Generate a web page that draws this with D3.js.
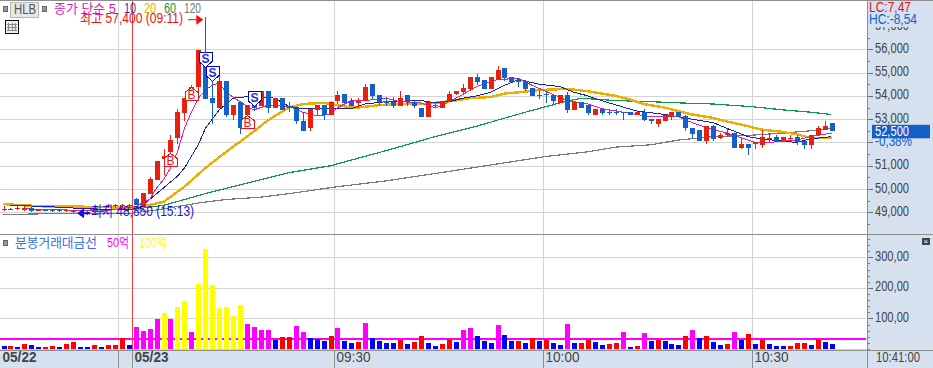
<!DOCTYPE html>
<html>
<head>
<meta charset="utf-8">
<script src="https://cdn.jsdelivr.net/npm/d3@7"></script>
<style>
  html, body { margin: 0; padding: 0; background: #fff; }
  svg { display: block; }
  text { font-family: "Liberation Sans", "Noto Sans CJK KR", sans-serif; }
</style>
</head>
<body>
<svg id="drawing_region"></svg>
<script>
// candles, one per minute, k = 0..119
const open = [49100,49150,49150,49100,49200,49050,49100,49100,49100,49050,49050,49000,49000,49000,49050,49250,49250,49250,49250,49550,
  49250,49800,50400,51300,51600,52200,53250,54150,54400,55750,53900,53500,54650,53200,53750,53200,53750,53550,54200,53500,
  53900,53550,53500,52900,52600,53400,53600,53200,53800,54100,53800,53700,53800,54500,54050,53800,53750,53550,54050,53750,
  53500,53100,53600,53500,53800,54100,54150,54300,54800,54700,54300,54700,55200,54800,54700,54650,54350,54050,54100,54050,
  53700,54050,53400,53750,53600,53200,53450,53300,53300,53300,53300,53200,53300,53000,52800,52900,53100,53300,53150,52600,
  52550,52050,52700,52200,52300,52400,51750,51950,51950,51900,52150,52250,52050,52150,52250,52050,51900,52300,52550,52850];
const high = [49250,49200,49250,49250,49250,49150,49150,49150,49150,49150,49100,49050,49050,49100,49100,49350,49350,49350,49350,49600,
  49850,50500,51200,51700,52300,53450,53900,54450,55950,57400,55000,54950,54650,53600,53750,53600,53800,54200,54200,53900,
  53900,53750,53500,53300,53450,53600,53600,53800,54200,54100,53900,53900,54500,54500,54050,53950,53950,54200,54050,53800,
  53500,53750,53750,53800,54200,54200,54500,54800,54950,54700,54800,55300,55200,54800,54750,54700,54350,54250,54150,54100,
  54050,54150,53750,53750,53600,53450,53450,53450,53450,53300,53300,53300,53450,53000,53000,53200,53300,53300,53200,52600,
  52550,52700,52750,52400,52600,52400,52250,51950,52000,52550,52400,52300,52250,52300,52300,52050,52300,52700,52900,52850];
const low = [49050,49100,49100,49050,49000,49050,49050,49000,49000,49000,48950,48850,48900,48950,49000,49200,49200,49200,49200,49300,
  49250,49800,50400,50600,51400,51950,52900,54100,54150,53850,52800,53500,53100,52950,52350,53100,53350,53550,53250,53500,
  53400,53300,52800,52500,52500,53200,52950,53200,53650,53700,53550,53500,53800,53850,53550,53550,53500,53550,53550,53500,
  53100,53100,53500,53500,53800,54050,54100,54200,54450,54300,54300,54700,54650,54600,54400,54200,54000,53850,53700,53650,
  53700,53250,53400,53500,53200,53200,53200,53200,53200,52950,53200,53200,52900,52800,52650,52900,52950,53100,52500,52200,
  52050,51950,52050,52150,52250,51750,51700,51450,51700,51750,52000,52000,52000,52000,51900,51700,51700,52300,52550,52500];
const close = [49150,49150,49200,49200,49050,49150,49100,49050,49050,49100,49000,48950,48950,49050,49000,49300,49300,49300,49300,49300,
  49850,50450,51200,51400,52100,53300,53900,54400,55950,53850,53700,54650,53200,53600,52600,53600,53500,54200,53500,53900,
  53400,53500,52900,52500,53450,53600,53200,53750,54050,53700,53550,53800,54400,54000,53750,53700,53550,53900,53750,53550,
  53100,53750,53600,53800,54100,54200,54350,54800,54600,54300,54800,55100,54750,54600,54600,54300,54000,54050,54050,53800,
  54050,53400,53750,53500,53250,53450,53250,53300,53300,53300,53200,53300,52950,52900,53000,53200,53300,53100,52600,52350,
  52050,52700,52150,52300,52400,51750,51950,51750,52000,52250,52200,52000,52250,52200,52000,51900,52300,52600,52700,52500];

// moving averages as [k, price]
const ma5 = [[3,49150],[9,49100],[14,49050],[18,49200],[19,49250],[21,49550],[22,50050],[23,50400],[24,50900],[25,51600],[26,52600],[27,53300],
  [28,53900],[29,54250],[30,54450],[31,54550],[32,54150],[33,53950],[35,53550],[36,53400],[38,53600],[41,53550],[43,53300],[45,53150],[47,53200],
  [48,53500],[50,53800],[52,53800],[55,53900],[57,53750],[60,53700],[62,53500],[63,53550],[64,53750],[66,54050],[68,54400],[71,54700],[74,54750],
  [76,54450],[81,53800],[84,53650],[86,53450],[89,53300],[93,53100],[97,53100],[99,52850],[102,52550],[104,52400],[106,52200],[108,52000],[110,52000],
  [114,52100],[116,52250],[119,52400]];
const ma10 = [[1,49300],[6,49250],[12,49150],[18,49100],[20,49250],[21,49550],[22,49800],[23,50050],[25,50550],[26,50900],[28,51900],[29,52600],
  [31,53400],[33,53900],[36,54000],[39,53900],[41,53550],[43,53450],[46,53450],[50,53450],[52,53650],[55,53750],[60,53800],[62,53700],[64,53750],
  [66,53900],[68,54000],[70,54150],[72,54450],[74,54700],[77,54500],[80,54400],[82,54150],[84,54000],[87,53700],[91,53350],[95,53200],[97,53100],
  [102,52850],[104,52600],[107,52250],[109,52150],[114,52000],[116,52150],[119,52250]];
const ma20 = [[0,49350],[6,49250],[10,49250],[18,49200],[20,49250],[23,49450],[26,50100],[29,50900],[32,51600],[35,52250],[38,52950],[41,53500],
  [43,53650],[46,53700],[48,53600],[50,53500],[51,53500],[54,53600],[56,53650],[60,53650],[62,53700],[65,53800],[67,53900],[70,53950],[72,54100],
  [74,54150],[77,54250],[81,54300],[84,54200],[86,54100],[88,54000],[90,53850],[92,53650],[95,53500],[97,53350],[99,53200],[102,53050],[104,52900],
  [107,52700],[109,52550],[112,52450],[114,52350],[116,52200],[119,52200]];
const ma60 = [[12,49150],[18,49100],[23,49300],[29,49800],[35,50250],[41,50700],[47,51000],[55,51650],[62,52250],[68,52700],[75,53300],[80,53700],
  [83,53900],[88,53800],[93,53750],[97,53700],[102,53650],[107,53550],[112,53400],[116,53300],[119,53200]];
const ma120 = [[0,48900],[8,48950],[18,48950],[22,49100],[28,49400],[32,49550],[37,49650],[41,49800],[48,50100],[55,50350],[65,50800],[78,51400],
  [84,51600],[88,51800],[93,51900],[97,52100],[102,52250],[107,52300],[112,52400],[116,52500],[119,52600]];

// volume, in 억
const vol = [10,10,7,16,13,7,7,10,7,16,23,7,7,13,7,13,13,36,13,72,59,65,98,118,98,137,157,56,213,327,209,134,137,108,144,82,72,62,62,29,
  39,39,75,56,36,33,26,43,69,26,20,23,85,36,26,20,20,29,16,23,43,20,10,16,33,23,62,69,43,26,20,78,46,26,26,20,36,26,33,20,
  13,82,20,20,33,23,13,16,20,56,7,10,52,26,29,26,16,13,43,62,36,43,23,13,16,56,29,49,16,33,16,10,10,10,20,20,13,33,23,16];
const volUp = [0,1,0,1,0,0,1,1,0,1,1,0,0,1,0,1,1,1,0,1,1,1,1,1,1,1,1,1,1,1,1,1,1,1,1,1,1,1,1,0,
  1,1,1,1,0,0,0,1,1,0,0,1,1,0,0,0,0,1,0,1,1,0,0,1,1,0,1,1,0,0,0,1,0,0,1,0,1,0,1,0,
  0,1,0,1,1,0,0,1,1,1,0,1,1,0,1,0,0,0,1,1,0,1,0,0,1,1,0,1,0,1,0,0,0,1,1,1,0,1,0,0];
const volLine = 33;
const volMid = 50;
const volHigh = 100;

const signalK = [24, 27, 35, 29, 30, 36];
const signalType = ['B', 'B', 'B', 'S', 'S', 'S'];
const signalPrice = [51550, 54400, 53200, 55250, 54650, 53550];

const priceTicks = [49000, 50000, 51000, 52000, 53000, 54000, 55000, 56000, 57000];
const volTicks = [100, 200, 300];
const gridK = [17, 48, 78, 108];
const dayK = 19;
const timeK = [0, 19, 48, 78, 108];
const timeLabels = ['05/22', '05/23', '09:30', '10:00', '10:30'];

const width = 933, height = 368;
const plotRight = 867, split = 234.5, plotBottom = 350.5;
const panelColor = '#d6e1ef', gridColor = '#d4d4d4', borderColor = '#8e8e8e', axisText = '#444';
const upColor = '#e8200f', downColor = '#1560c8';

const svg = d3.select('#drawing_region').attr('width', width).attr('height', height);

const x = d3.scaleLinear().domain([0, 119]).range([3.5, 831.5]);
const yP = d3.scaleLinear().domain([49000, 56000]).range([212.3, 49.3]);
const yV = d3.scaleLinear().domain([0, 300]).range([349, 257.3]);
const gridX = k => Math.floor(x(k) - 2.9) + 0.5;

// side panels
svg.append('rect').attr('x', plotRight).attr('y', 0).attr('width', width - plotRight).attr('height', height).attr('fill', panelColor);
svg.append('rect').attr('x', 0).attr('y', plotBottom).attr('width', width).attr('height', height - plotBottom).attr('fill', panelColor);

// grid
const grid = svg.append('g').attr('shape-rendering', 'crispEdges').attr('stroke', gridColor);
grid.selectAll('.hp').data(priceTicks.slice(0, 8)).join('line')
  .attr('x1', 0).attr('x2', plotRight).attr('y1', d => Math.round(yP(d)) + 0.5).attr('y2', d => Math.round(yP(d)) + 0.5);
grid.selectAll('.hv').data([0].concat(volTicks), d => d).enter().append('line')
  .attr('x1', 0).attr('x2', plotRight).attr('y1', d => Math.round(yV(d)) + 0.5).attr('y2', d => Math.round(yV(d)) + 0.5);
grid.selectAll('.vg').data(gridK, d => 'k' + d).enter().append('line')
  .attr('x1', d => gridX(d)).attr('x2', d => gridX(d)).attr('y1', 0).attr('y2', plotBottom);

// moving averages go under the candles
const maLine = d3.line().x(d => x(d[0])).y(d => yP(d[1]));
const maStyles = [[ma120, '#7a7a7a', 1.2], [ma60, '#0c9a44', 1.2], [ma20, '#f0ac00', 2.4], [ma10, '#12289c', 1], [ma5, '#e020b0', 1]];
maStyles.forEach(s => {
  svg.append('path').attr('d', maLine(s[0])).attr('fill', 'none').attr('stroke', s[1]).attr('stroke-width', s[2])
    .attr('shape-rendering', 'crispEdges');
});

// candles
const candles = svg.append('g').attr('shape-rendering', 'crispEdges');
const candleColor = k => close[k] > open[k] ? upColor : downColor;
const ks = d3.range(open.length);
candles.selectAll('.wick').data(ks).enter().append('line')
  .attr('x1', k => Math.round(x(k)) + 0.5).attr('x2', k => Math.round(x(k)) + 0.5)
  .attr('y1', k => yP(high[k])).attr('y2', k => yP(low[k]))
  .attr('stroke', candleColor);
candles.selectAll('.body').data(ks).enter().append('rect')
  .attr('x', k => Math.round(x(k)) - 2).attr('width', 5)
  .attr('y', k => yP(Math.max(open[k], close[k])))
  .attr('height', k => Math.max(1, yP(Math.min(open[k], close[k])) - yP(Math.max(open[k], close[k]))))
  .attr('fill', candleColor);

// volume
svg.append('line').attr('x1', 0).attr('x2', plotRight - 1).attr('y1', yV(volLine)).attr('y2', yV(volLine))
  .attr('stroke', '#ff00ff').attr('stroke-width', 2).attr('shape-rendering', 'crispEdges');
const volColor = k => vol[k] >= volHigh ? '#ffff00' : vol[k] >= volMid ? '#ff00ff' : volUp[k] ? '#ff0000' : '#0000ff';
svg.append('g').attr('shape-rendering', 'crispEdges').selectAll('rect').data(ks).join('rect')
  .attr('x', k => Math.round(x(k)) - 2).attr('width', 5)
  .attr('y', k => yV(vol[k])).attr('height', k => yV(0) - yV(vol[k]))
  .attr('fill', volColor);

// red line at the start of the day
svg.append('line').attr('x1', gridX(dayK)).attr('x2', gridX(dayK)).attr('y1', 0).attr('y2', plotBottom)
  .style('stroke', '#f03c3c').attr('shape-rendering', 'crispEdges');

// buy and sell flags
const flags = svg.append('g').selectAll('g').data(d3.range(signalK.length)).join('g')
  .attr('transform', i => `translate(${Math.round(x(signalK[i])) + 0.5},${Math.round(yP(signalPrice[i])) + 0.5})`);
flags.append('path')
  .attr('d', i => signalType[i] === 'S' ? 'M-6.5,-15H6.5V-6L0,0L-6.5,-6Z' : 'M0,0L6.5,5V12.5H-6.5V5Z')
  .attr('fill', '#fff').attr('stroke', i => signalType[i] === 'S' ? '#0000e0' : '#f01010')
  .attr('stroke-width', 1).attr('shape-rendering', 'crispEdges');
flags.append('text').text(i => signalType[i])
  .attr('text-anchor', 'middle').attr('y', i => signalType[i] === 'S' ? -5 : 11.5)
  .attr('font-size', 12).attr('font-weight', i => signalType[i] === 'S' ? 'bold' : 'normal')
  .attr('fill', i => signalType[i] === 'S' ? '#1a2fe0' : '#f01010');

function label(txt, px, py, color, len, size) {
  const t = svg.append('text').text(txt).attr('x', px).attr('y', py).attr('fill', color)
    .attr('font-size', size || 13).attr('dominant-baseline', 'middle');
  if (len) t.attr('textLength', len).attr('lengthAdjust', 'spacingAndGlyphs');
  return t;
}

// high and low notes
const hiY = yP(57400) + 3, loY = yP(48850) - 3;
label('최고 57,400 (09:11)', 80, hiY, '#f01010', 103, 14);
svg.append('line').attr('x1', 188).attr('x2', x(29) - 6).attr('y1', hiY).attr('y2', hiY).attr('stroke', '#f01010');
svg.append('path').attr('d', `M${x(29) - 2},${hiY}l-7,-5v10Z`).attr('fill', '#f01010');
label('최저 48,850 (15:13)', 91, loY, '#1414e6', 103, 14);
svg.append('line').attr('x1', x(11)).attr('x2', 90).attr('y1', loY + 0.5).attr('y2', loY + 0.5).attr('stroke', '#1414e6').attr('stroke-width', 2);
svg.append('path').attr('d', `M${x(11) - 3},${loY + 0.5}l7,-5v10Z`).attr('fill', '#1414e6');

// right axes
const priceMinor = d3.range(48500, 57500, 500);
const volMinor = d3.range(0, 380, 20);
const axisP = svg.append('g').attr('transform', `translate(${plotRight},0)`)
  .call(d3.axisRight(yP).tickValues(priceTicks).tickSize(6).tickPadding(2).tickFormat(d3.format(',')));
const axisV = svg.append('g').attr('transform', `translate(${plotRight},0)`)
  .call(d3.axisRight(yV).tickValues(volTicks).tickSize(6).tickPadding(2).tickFormat(d => d + ',00'));
[axisP, axisV].forEach(a => {
  a.select('.domain').remove();
  a.selectAll('line').attr('stroke', '#666').attr('shape-rendering', 'crispEdges');
  a.selectAll('text').attr('fill', axisText).attr('font-size', 14).attr('dy', '0.22em')
    .attr('font-family', '"Liberation Sans", sans-serif')
    .attr('textLength', 34).attr('lengthAdjust', 'spacingAndGlyphs');
});
axisP.selectAll('.tick').filter(d => d === 52000).select('text').remove();
svg.append('g').attr('shape-rendering', 'crispEdges').attr('stroke', '#777')
  .selectAll('line').data(priceMinor.map(yP).filter(d => d < 228).concat(volMinor.map(yV).filter(d => d > 238))).join('line')
  .attr('x1', plotRight).attr('x2', plotRight + 3).attr('y1', d => Math.round(d) + 0.5).attr('y2', d => Math.round(d) + 0.5);

// borders
const borders = svg.append('g').attr('stroke', borderColor).attr('shape-rendering', 'crispEdges');
[[0, width, 0.5, 0.5], [0, width, split, split], [0, width, plotBottom, plotBottom], [plotRight + 0.5, plotRight + 0.5, 0, height]].forEach(b => {
  borders.append('line').attr('x1', b[0]).attr('x2', b[1]).attr('y1', b[2]).attr('y2', b[3]);
});
gridK.concat(dayK).forEach(k => {
  borders.append('line').attr('x1', gridX(k)).attr('x2', gridX(k)).attr('y1', plotBottom).attr('y2', height);
});

// time labels
timeK.forEach((k, i) => {
  label(timeLabels[i], Math.max(2, gridX(k) + 2), 358, axisText, 34, 14).attr('font-weight', i < 2 ? 'bold' : 'normal');
});
label('10:41:00', 876, 358, axisText, 44, 14);

// right panel notes
svg.append('rect').attr('x', 868).attr('y', 1).attr('width', 65).attr('height', 26).attr('fill', panelColor);
label('LC:7,47', 869, 8, '#f01010', 42, 14);
label('HC:-8,54', 869, 20, '#1560c8', 48, 14);
svg.append('rect').attr('x', 872).attr('y', yP(52500) - 6).attr('width', 58).attr('height', 13.5).attr('fill', '#1560c8');
label('52,500', 875, yP(52500) + 1, '#fff', 34, 14);
label('-0,38%', 875, yP(52000) - 0.5, '#1560c8', 37, 14);

// close button of the lower pane
svg.append('rect').attr('x', 922).attr('y', 238).attr('width', 8).attr('height', 7).attr('fill', '#444');
label('×', 923.5, 241.5, '#fff', 0, 8);

// legend of the price pane
svg.append('rect').attr('x', 10.5).attr('y', 2.5).attr('width', 28).attr('height', 15).attr('fill', '#e6e6e6').attr('stroke', '#b8b8b8');
label('HLB', 14, 10, '#555', 22, 14);
[3, 42].forEach(px => {
  svg.append('rect').attr('x', px + 0.5).attr('y', 6.5).attr('width', 4).attr('height', 5).attr('fill', '#999').attr('stroke', '#666');
});
label('종가 단순 5', 54, 9.5, '#e020b0', 62, 13);
label('10', 124, 9.5, '#1f3fb0', 12, 14);
label('20', 144, 9.5, '#f0ac00', 12, 14);
label('60', 164, 9.5, '#0c9a44', 12, 14);
label('120', 184, 9.5, '#777', 17, 14);

// table icon
svg.append('rect').attr('x', 5.5).attr('y', 20.5).attr('width', 13).attr('height', 13).attr('fill', '#eee').attr('stroke', '#111').attr('shape-rendering', 'crispEdges');
svg.append('g').attr('stroke', '#888').attr('shape-rendering', 'crispEdges').selectAll('path').data(['M8.5,23V31', 'M12.5,23V31', 'M15.5,23V31', 'M7,24.5H17', 'M7,27.5H17', 'M7,30.5H17']).join('path').attr('d', d => d);

// legend of the volume pane
svg.append('rect').attr('x', 3.5).attr('y', 240.5).attr('width', 4).attr('height', 5).attr('fill', '#999').attr('stroke', '#666');
label('분봉거래대금선', 15, 243.5, '#3a6fe0', 82, 13);
label('50억', 107, 243.5, '#ff00ff', 22, 13);
label('100억', 139, 243.5, '#ffff00', 28, 13);
</script>
</body>
</html>
